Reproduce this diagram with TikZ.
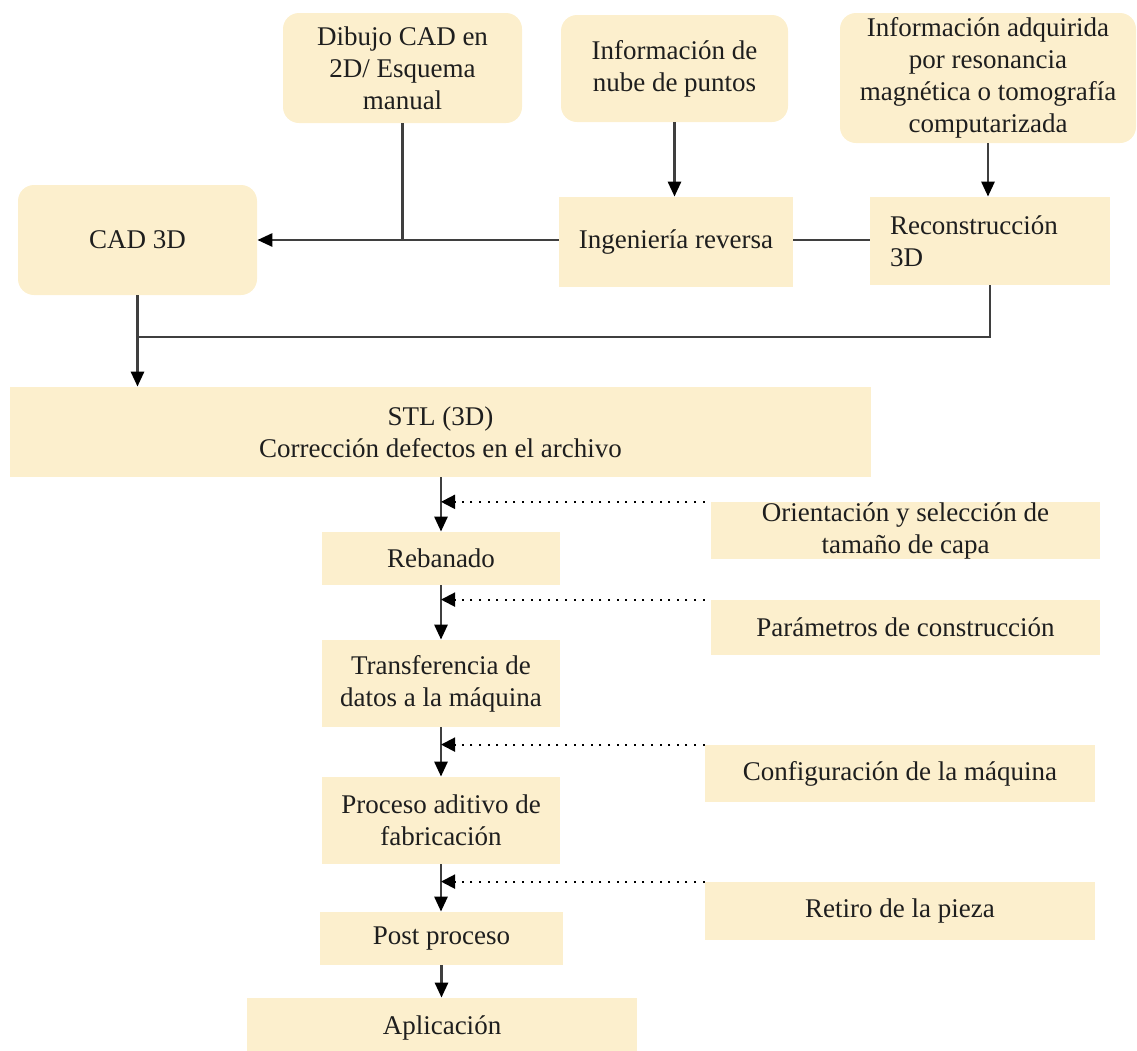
\documentclass[tikz,border=0pt]{standalone}
\usepackage{fontspec}
\setmainfont{Liberation Serif}
\usetikzlibrary{arrows.meta}
\definecolor{boxfill}{HTML}{FCEFCD}
\definecolor{linegray}{HTML}{3F3F3F}
\definecolor{txt}{HTML}{1E1E1E}
\newcommand\mkbox[7]{\node[#6, minimum width={(#4-#2)*0.5pt}, minimum height={(#5-#3)*0.5pt}] (#1) at ({(#2+#4)/2},{(#3+#5)/2}) {#7};}
\begin{document}
\begin{tikzpicture}[x=0.5pt,y=-0.5pt,
  box/.style={fill=boxfill, draw=none, inner sep=1pt, align=center, text=txt,
    font=\fontsize{13.5}{16}\selectfont},
  rbox/.style={box, rounded corners=8pt},
  conn/.style={draw=linegray, line width=1.4pt},
  arr/.style={conn, -{Triangle[length=7.5pt,width=6.5pt,black]}},
  dots/.style={draw=black, line width=1pt, dash pattern=on 1pt off 3.3pt,
    -{Triangle[length=7pt,width=7pt,black]}}]
\useasboundingbox (0,0) rectangle (1137,1051);
\clip (0,0) rectangle (1137,1051);
% top row
\mkbox{dib}{283}{13}{522}{123}{rbox}{Dibujo CAD en\\2D/ Esquema\\manual}
\mkbox{nube}{561}{15}{788}{122}{rbox}{Información de\\nube de puntos}
\mkbox{adq}{840}{13}{1136}{143}{rbox}{Información adquirida\\por resonancia\\magnética o tomografía\\computarizada}
% second row
\mkbox{cad}{18}{185}{257}{295}{rbox}{CAD 3D}
\mkbox{ing}{559}{197}{793}{287}{box}{Ingeniería reversa}
\mkbox{rec}{870}{197}{1110}{285}{box, align=left, text width=100pt, inner xsep=10pt}{Reconstrucción\\3D}
% main column
\mkbox{stl}{10}{387}{871}{477}{box}{STL (3D)\\Corrección defectos en el archivo}
\mkbox{reb}{322}{532}{560}{585}{box}{Rebanado}
\mkbox{tra}{322}{640}{560}{727}{box}{Transferencia de\\datos a la máquina}
\mkbox{pro}{322}{777}{560}{864}{box}{Proceso aditivo de\\fabricación}
\mkbox{post}{320}{912}{563}{965}{box}{Post proceso}
\mkbox{apl}{247}{998}{637}{1058}{box}{Aplicación}
% side boxes
\mkbox{ori}{711}{503}{1100}{558}{box, inner sep=0pt}{Orientación y selección de\\tamaño de capa}
\mkbox{par}{711}{600}{1100}{655}{box}{Parámetros de construcción}
\mkbox{conf}{705}{745}{1095}{802}{box}{Configuración de la máquina}
\mkbox{ret}{705}{882}{1095}{940}{box}{Retiro de la pieza}
% junction coordinate
\coordinate (jb) at (137.5,337);
% top connectors
\draw[conn] (dib.south) -- (dib.south |- cad.east);
\draw[arr] (ing.west |- cad.east) -- (cad.east);
\draw[conn] (ing.east |- cad.east) -- (rec.west |- cad.east);
\draw[arr] (nube.south) -- (nube.south |- ing.north);
\draw[arr] (adq.south) -- (adq.south |- rec.north);
\draw[conn] (rec.south) |- (jb);
\draw[arr] (cad.south) -- (cad.south |- stl.north);
% main column arrows
\draw[arr] (reb.north |- stl.south) -- (reb.north);
\draw[arr] (reb.south) -- (tra.north);
\draw[arr] (tra.south) -- (pro.north);
\draw[arr] (pro.south) -- (pro.south |- post.north);
\draw[arr] (post.south) -- (post.south |- apl.north);
% dotted inputs
\draw[dots, shorten <=3pt] (ori.north west) -- (ori.north west -| reb.north);
\draw[dots, shorten <=3pt] (par.north west) -- (par.north west -| reb.north);
\draw[dots] (conf.north west) -- (conf.north west -| tra.south);
\draw[dots] (ret.north west) -- (ret.north west -| pro.south);
\end{tikzpicture}
\end{document}
